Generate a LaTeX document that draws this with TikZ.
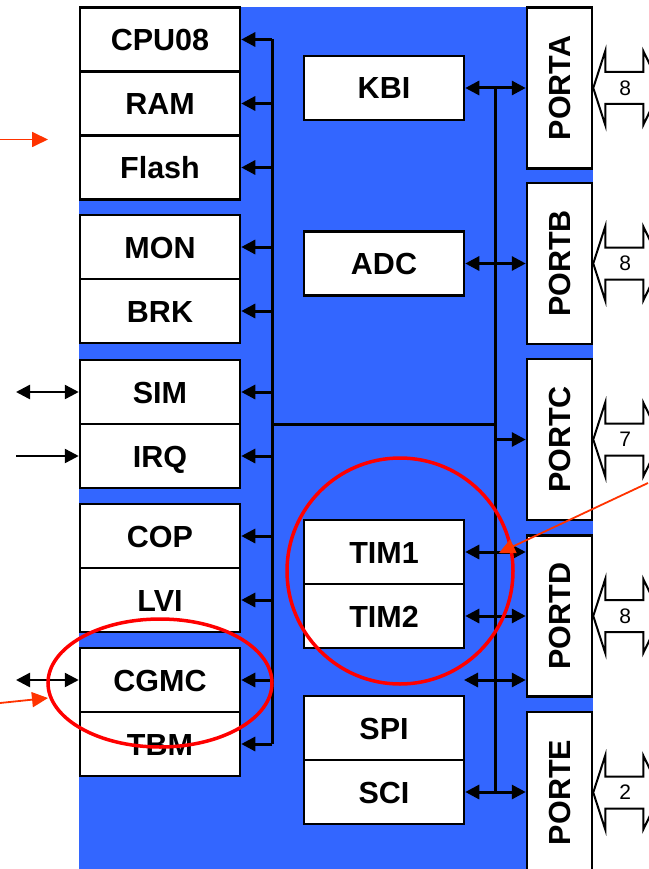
\documentclass[tikz,border=0pt]{standalone}
\usepackage{fontspec}
\setmainfont{Liberation Sans}
\usetikzlibrary{arrows.meta}
\definecolor{bgblue}{HTML}{3366FF}
\definecolor{ringred}{HTML}{FF0000}
\definecolor{pointer}{HTML}{FF3300}
\begin{document}
\begin{tikzpicture}[x=1pt,y=-1pt,
  blk/.style={draw=black, line width=2.5pt, fill=white, minimum width=160pt, minimum height=64pt,
    inner sep=0pt, text height=22pt, text depth=0pt, font=\fontsize{30.5}{30.5}\selectfont\bfseries},
  portbox/.style={draw=black, line width=2.5pt, fill=white, minimum width=65pt, minimum height=161pt, inner sep=0pt},
  portlbl/.style={rotate=90, inner sep=0pt, text height=22pt, text depth=0pt, font=\fontsize{30.5}{30.5}\selectfont\bfseries},
  numlbl/.style={inner sep=0pt, font=\fontsize{21}{21}\selectfont},
  bus/.style={line width=3pt},
  thin/.style={line width=2.5pt},
  tipr/.style={-{Triangle[length=14pt,width=14pt]}},
  tipl/.style={{Triangle[length=14pt,width=14pt]}-},
  tipd/.style={{Triangle[length=14pt,width=14pt]}-{Triangle[length=14pt,width=14pt]}},
  hollow/.style={draw=black, line width=2pt, fill=white, line join=miter},
  ringline/.style={draw=ringred, line width=3.5pt},
  ptr/.style={draw=pointer, line width=1.8pt, -{Triangle[length=16pt,width=15pt]}, pointer}
]
% background and bounding box
\fill[white] (0,0) rectangle (648,869);
\useasboundingbox (0,0) rectangle (648,869);
\fill[bgblue] (79,7) rectangle (593,869);

% bus coordinates
\coordinate (lbus) at (272,0);
\coordinate (rbus) at (495,0);

% left column
\node[blk] (cpu)   at (160,39.5) {CPU08};
\node[blk] (ram)   at (160,103.5) {RAM};
\node[blk] (flash) at (160,167.5) {Flash};
\node[blk] (mon)   at (160,247) {MON};
\node[blk] (brk)   at (160,311) {BRK};
\node[blk] (sim)   at (160,392) {SIM};
\node[blk] (irq)   at (160,456) {IRQ};
\node[blk] (cop)   at (160,536) {COP};
\node[blk] (lvi)   at (160,600) {LVI};
\node[blk] (cgmc)  at (160,680) {CGMC};
\node[blk] (tbm)   at (160,744) {TBM};

% middle column
\node[blk] (kbi)  at (384,88) {KBI};
\node[blk] (adc)  at (384,263.5) {ADC};
\node[blk] (tim1) at (384,552) {TIM1};
\node[blk] (tim2) at (384,616) {TIM2};
\node[blk] (spi)  at (384,728) {SPI};
\node[blk] (sci)  at (384,792) {SCI};

% ports
\node[portbox] (porta) at (559.5,88) {};
\node[portbox] (portb) at (559.5,263.5) {};
\node[portbox] (portc) at (559.5,439.5) {};
\node[portbox] (portd) at (559.5,616) {};
\node[portbox] (porte) at (559.5,792.5) {};
\node[portlbl] (la) at (porta.center) {PORTA};
\node[portlbl] (lb) at (portb.center) {PORTB};
\node[portlbl] (lc) at (portc.center) {PORTC};
\node[portlbl] (ld) at (portd.center) {PORTD};
\node[portlbl] (le) at (porte.center) {PORTE};

% external wide double arrows on ports
\foreach \p/\n in {porta/8, portb/8, portc/7, portd/8, porte/2}{
  \draw[hollow] (\p.east) -- ++(12,-37) -- ++(0,21) -- ++(38,0) -- ++(0,-21) -- ++(18,37)
     -- ++(-18,37) -- ++(0,-21) -- ++(-38,0) -- ++(0,21) -- cycle;
  \node[numlbl] (n\p) at ([xshift=32pt]\p.east) {\n};
}

% left bus
\draw[bus] (cpu.east -| lbus) -- (tbm.east -| lbus);
\foreach \b in {cpu,ram,flash,mon,brk,sim,irq,cop,lvi,cgmc,tbm}{
  \draw[bus, tipl] (\b.east) -- (\b.east -| lbus);
}
% link between buses
\coordinate (j1) at (272,424);
\coordinate (j2) at (495,424);
\draw[bus] (j1) -- (j2);

% right bus
\draw[bus] (kbi.east -| rbus) -- (sci.east -| rbus);
\draw[bus, tipd] (kbi.east) -- (kbi.east -| porta.west);
\draw[bus, tipd] (adc.east) -- (adc.east -| portb.west);
\draw[bus, tipr] (rbus |- portc.west) -- (portc.west);
\draw[bus, tipd] (tim1.east) -- (tim1.east -| portd.west);
\draw[bus, tipd] (tim2.east) -- (tim2.east -| portd.west);
\coordinate (free) at (464,680);
\draw[bus, tipd] (free) -- (free -| portd.west);
\draw[bus, tipd] (sci.east) -- (sci.east -| porte.west);

% external left signals
\coordinate (simx) at (16,392);
\coordinate (irqx) at (16,456);
\coordinate (cgmx) at (16,680);
\draw[thin, tipd] (simx) -- (sim.west);
\draw[thin, tipr] (irqx) -- (irq.west);
\draw[thin, tipd] (cgmx) -- (cgmc.west);

% red highlight rings
\draw[ringline] (400,571) circle [radius=113];
\draw[ringline] (160,683) ellipse [x radius=112, y radius=64];

% orange pointers
\coordinate (p1a) at (0,139.5);
\coordinate (p1b) at (48,139.5);
\coordinate (p2a) at (0,703);
\coordinate (p2b) at (48,698);
\coordinate (p3a) at (648,483);
\coordinate (p3b) at (499,553);
\draw[ptr] (p1a) -- (p1b);
\draw[ptr] (p2a) -- (p2b);
\draw[ptr] (p3a) -- (p3b);
\end{tikzpicture}
\end{document}
